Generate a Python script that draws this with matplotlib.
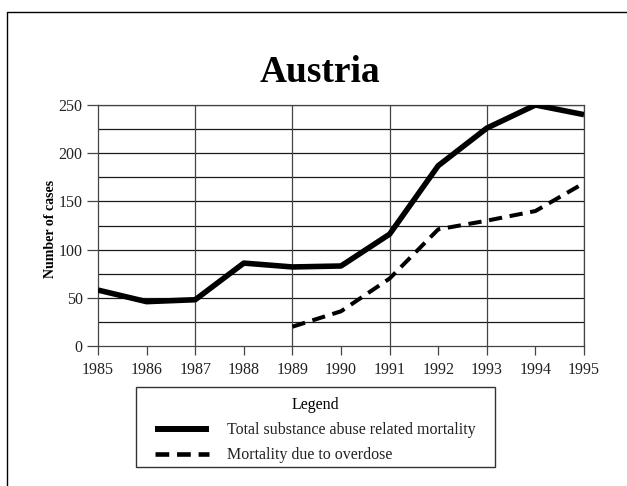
import matplotlib
matplotlib.use("Agg")
import matplotlib.pyplot as plt
from matplotlib.lines import Line2D
from matplotlib.patches import Rectangle

years = [1985, 1986, 1987, 1988, 1989, 1990, 1991, 1992, 1993, 1994, 1995]
total_mortality = [58, 46, 48, 86, 82, 83, 116, 187, 226, 250, 240]
overdose_years = [1989, 1990, 1991, 1992, 1993, 1994, 1995]
overdose_mortality = [20, 36, 70, 121, 130, 140, 169]
y_ticks = [0, 50, 100, 150, 200, 250]
title = "Austria"
ylabel = "Number of cases"
labels = ["Total substance abuse related mortality", "Mortality due to overdose"]

plt.rcParams['font.family'] = ['Liberation Serif', 'DejaVu Serif']

W, H = 627, 486
fig = plt.figure(figsize=(W / 100, H / 100), dpi=100)
fig.patch.set_facecolor('white')

def fx(px):
    return px / W

def fy(py):
    return 1 - py / H

ax = fig.add_axes([fx(98), fy(346), fx(584) - fx(98), fy(105) - fy(346)])

ax.plot(years, total_mortality, color='black', lw=4.0,
        solid_joinstyle='round', solid_capstyle='butt', label=labels[0], zorder=3)
ax.plot(overdose_years, overdose_mortality, color='black', lw=2.9,
        linestyle=(0, (3.3, 1.9)), dash_capstyle='butt', label=labels[1], zorder=3)

ax.set_xlim(1985, 1995)
ax.set_ylim(0, 250)
ax.set_xticks(years)
ax.set_xticklabels([str(y) for y in years])
ax.set_yticks(y_ticks)

# grid: horizontal every 25, vertical every other year
for v in range(25, 251, 25):
    ax.axhline(v, color='#1a1a1a', lw=0.9, zorder=1)
for yv in years[2::2]:
    ax.axvline(yv, color='#444444', lw=0.9, zorder=1)

for s in ax.spines.values():
    s.set_color('#444444')
    s.set_linewidth(0.9)

ax.tick_params(axis='y', which='major', direction='out', length=8, width=0.9,
               color='#444444', pad=3, labelsize=11.5, labelcolor='#222222')
ax.tick_params(axis='x', which='major', direction='out', length=6.5, width=0.9,
               color='#444444', pad=5, labelsize=11.5, labelcolor='#222222')

fig.text(fx(320), fy(82), title, ha='center', va='baseline',
         fontsize=27, fontweight='bold', color='black')
fig.text(fx(51), fy(229), ylabel, ha='center', va='center', rotation=90,
         fontsize=10, fontweight='bold', color='black')

# legend frame
fig.add_artist(Rectangle((fx(136), fy(467)), fx(495) - fx(136), fy(387) - fy(467),
                         transform=fig.transFigure, facecolor='white',
                         edgecolor='#333333', lw=1.0, zorder=0))

handles = [Line2D([], [], color='black', lw=4.3, solid_capstyle='butt'),
           Line2D([], [], color='black', lw=3.3, linestyle=(0, (3.0, 1.7)), dash_capstyle='butt')]
leg = fig.legend(handles, labels, title='Legend', loc='upper left',
                 bbox_to_anchor=(fx(145), fy(387)),
                 borderaxespad=0, fontsize=11.5, title_fontsize=11.5,
                 handlelength=3.4, handletextpad=1.1, borderpad=0.63, labelspacing=0.57,
                 frameon=False)
for t in leg.get_texts():
    t.set_color('#222222')

# figure border (left and top)
fig.add_artist(Line2D([fx(7), fx(7), 1.0], [0.0, fy(12), fy(12)],
                      transform=fig.transFigure, color='black', lw=1.0))

fig.savefig('out.png', dpi=100, facecolor='white')
